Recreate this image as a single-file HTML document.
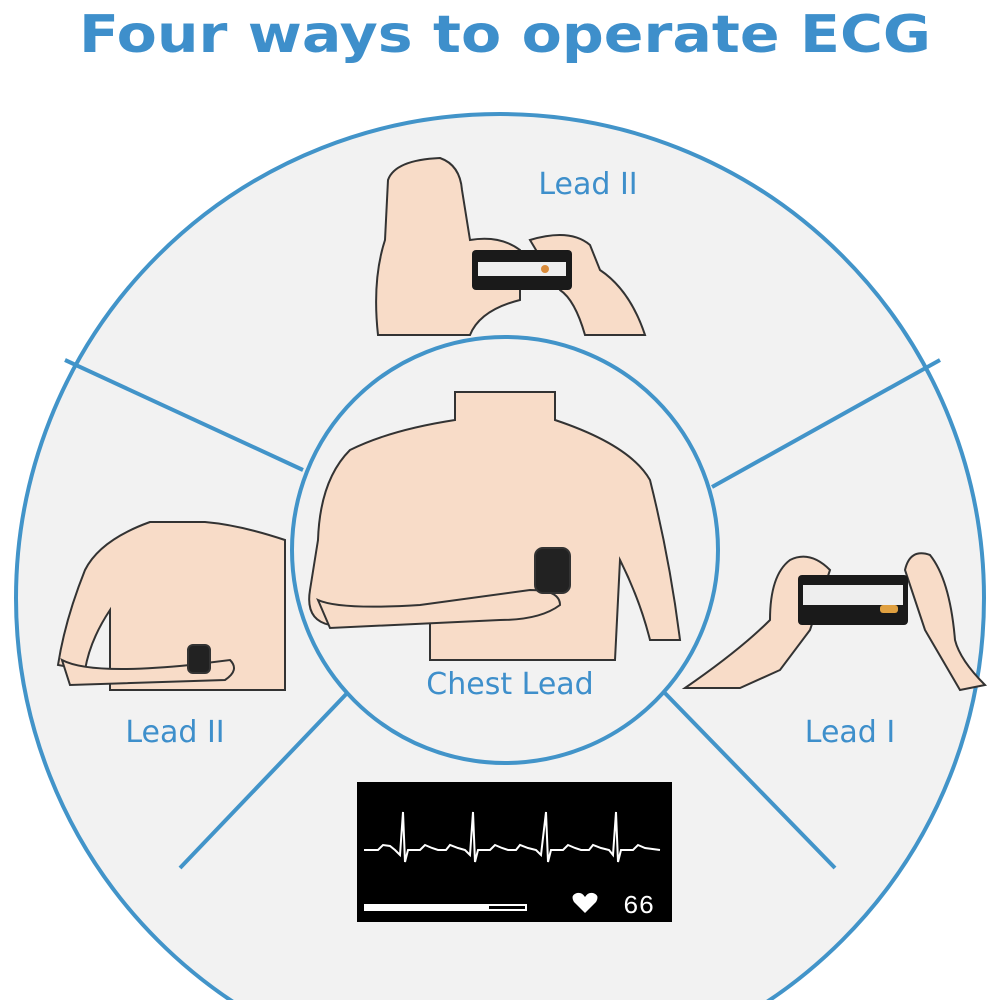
<!DOCTYPE html>
<html><head><meta charset="utf-8"><style>
body{margin:0;background:#fff;width:1000px;height:1000px;overflow:hidden;font-family:"DejaVu Sans",sans-serif}
svg{display:block}
</style></head><body>
<svg width="1000" height="1000" viewBox="0 0 1000 1000" xmlns="http://www.w3.org/2000/svg">
<defs><clipPath id="inner"><circle cx="505" cy="550" r="213"/></clipPath><clipPath id="page"><rect width="1000" height="1000"/></clipPath></defs>
<g clip-path="url(#page)">
<text x="505" y="52" text-anchor="middle" font-family="DejaVu Sans" font-weight="bold" font-size="52" fill="#3e8fcb" textLength="852" lengthAdjust="spacingAndGlyphs">Four ways to operate ECG</text>
<circle cx="500" cy="598" r="484" fill="#f2f2f2" stroke="#4294c9" stroke-width="4"/>
<g stroke="#4294c9" stroke-width="4">
<line x1="65" y1="360" x2="303" y2="470"/>
<line x1="940" y1="360" x2="712" y2="487"/>
<line x1="352" y1="688" x2="180" y2="868"/>
<line x1="660" y1="688" x2="835" y2="868"/>
</g>
<!-- top leg figure -->
<g fill="#f8dcc8" stroke="#333" stroke-width="2">
<path d="M388 180 Q395 160 440 158 Q460 165 462 190 L470 240 Q500 235 520 250 L520 300 Q480 310 470 335 L378 335 Q372 280 385 240 Z"/>
<path d="M530 240 Q570 228 590 245 L600 270 Q630 290 645 335 L585 335 Q575 300 560 290 Z"/>
</g>
<rect x="472" y="250" width="100" height="40" rx="4" fill="#1a1a1a"/>
<rect x="478" y="262" width="88" height="14" fill="#eee"/>
<circle cx="545" cy="269" r="4" fill="#d98b3a"/>
<text x="588" y="194" text-anchor="middle" font-size="30" fill="#3e8fcb">Lead II</text>
<!-- center chest -->
<circle cx="505" cy="550" r="213" fill="#f2f2f2" stroke="#4294c9" stroke-width="4"/>
<g clip-path="url(#inner)" fill="#f8dcc8" stroke="#333" stroke-width="2">
<path d="M455 392 L455 420 Q390 430 350 450 Q320 480 318 540 L310 590 Q305 620 330 625 L430 620 L430 660 L615 660 L620 560 Q640 600 650 640 L680 640 Q670 560 650 480 Q630 445 555 420 L555 392 Z"/>
<path d="M318 600 Q340 610 420 605 L530 590 Q560 590 560 605 Q540 620 500 620 L330 628 Z"/>
<rect x="535" y="548" width="35" height="45" rx="8" fill="#222"/>
</g>
<text x="510" y="694" text-anchor="middle" font-size="30" fill="#3e8fcb">Chest Lead</text>
<!-- left torso -->
<g fill="#f8dcc8" stroke="#333" stroke-width="2">
<path d="M150 522 Q100 540 85 570 Q65 620 58 665 L85 670 Q90 640 110 610 L110 690 L285 690 L285 540 Q240 525 205 522 Z"/>
<path d="M62 660 Q90 675 190 665 L230 660 Q240 670 225 680 L70 685 Z"/>
<rect x="188" y="645" width="22" height="28" rx="5" fill="#222"/>
</g>
<text x="175" y="742" text-anchor="middle" font-size="30" fill="#3e8fcb">Lead II</text>
<!-- right hands -->
<g fill="#f8dcc8" stroke="#333" stroke-width="2">
<path d="M685 688 Q740 650 770 620 Q770 575 790 560 Q810 550 830 570 L810 630 L780 670 L740 688 Z"/>
<path d="M985 685 Q960 660 955 640 Q950 580 930 555 Q910 548 905 570 L925 630 L960 690 Z"/>
</g>
<rect x="798" y="575" width="110" height="50" rx="4" fill="#1a1a1a"/>
<rect x="803" y="585" width="100" height="20" fill="#eee"/>
<rect x="880" y="605" width="18" height="8" rx="3" fill="#e0a040"/>
<text x="850" y="742" text-anchor="middle" font-size="30" fill="#3e8fcb">Lead I</text>
<!-- ECG display -->
<rect x="357" y="782" width="315" height="140" fill="#000"/>
<polyline fill="none" stroke="#fff" stroke-width="2" points="364,850 378,850 383,845 390,846 395,850 400,855 403,812 405,862 408,850 420,850 425,845 432,848 438,850 446,850 450,845 458,848 465,850 470,855 473,812 475,862 478,850 490,850 495,845 502,848 508,850 516,850 520,845 528,848 536,850 541,855 546,812 548,862 551,850 563,850 568,845 575,848 581,850 589,850 593,845 601,848 609,850 613,855 616,812 618,862 621,850 633,850 638,845 645,848 660,850"/>
<rect x="364" y="904" width="163" height="7" fill="#fff"/>
<rect x="489" y="906" width="36" height="3" fill="#000"/>
<path d="M585 913 L574 902 Q570 895 577 893 Q582 892 585 897 Q588 892 593 893 Q600 895 596 902 Z" fill="#fff"/>
<text x="623" y="913" font-family="Liberation Mono" font-size="26" fill="#fff">66</text>
</g>
</svg>
</body></html>
